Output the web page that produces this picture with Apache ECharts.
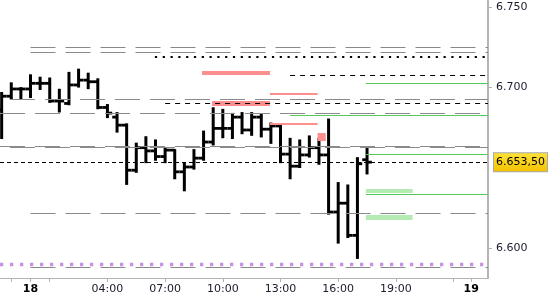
<!DOCTYPE html>
<html><head><meta charset="utf-8">
<script src="https://cdn.jsdelivr.net/npm/echarts@6/dist/echarts.min.js"></script>
<style>html,body{margin:0;padding:0;background:#fff}#c{width:550px;height:300px}</style>
</head><body><div id="c"></div>
<script>
// 30-minute OHLC bars, time in hours relative to 00:00 of day 18
const barHours = [-1.5,-1,-0.5,0,0.5,1,1.5,2,2.5,3,3.5,4,4.5,5,5.5,6,6.5,7,7.5,8,8.5,9,9.5,10,10.5,11,11.5,12,12.5,13,13.5,14,14.5,15,15.5,16,16.5,17,17.5];
const opens  = [6686,6694.5,6699,6699,6702.5,6702.5,6691.5,6690,6701.5,6704.5,6703.5,6687.5,6681.5,6676.5,6648.5,6662.5,6660.5,6657,6661,6647.5,6650.5,6656,6666,6674.5,6674.5,6681.5,6673.5,6681.5,6674,6676,6658.5,6651,6658,6662.5,6658,6622.5,6628,6608,6655];
const highs  = [6696.5,6702.5,6699.5,6707.5,6706,6705.5,6698.5,6709,6711,6708.5,6705,6689,6684,6677,6665,6669,6667,6662,6661,6652.5,6661,6672.5,6687,6686,6683.5,6684,6684,6683,6677.5,6676.5,6668,6667,6669.5,6668,6680,6640.5,6639,6656,6662];
const lows   = [6668.5,6693,6693,6694,6699,6691,6685,6689.5,6700.5,6699.5,6687,6681.5,6672.5,6640,6647.5,6653.5,6655,6653.5,6643.5,6636,6649.5,6655,6664.5,6669,6668.5,6671.5,6670.5,6669.5,6665.5,6653.5,6643.5,6650.5,6657,6652.5,6621.5,6603.5,6607,6594,6646.5];
const closes = [6694.5,6699,6699,6702.5,6702.5,6691.5,6691.5,6701.5,6704.5,6703.5,6687.5,6684,6676.5,6648.5,6662.5,6660.5,6657,6661,6647.5,6650.5,6656,6666,6674.5,6674.5,6681.5,6673.5,6681.5,6674,6676,6658.5,6651,6658,6662.5,6658,6622.5,6628,6608,6652.5,6653.5];

const lastPrice = 6653.5;
const xMin = -1.586, xMax = 23.79;
const yMin = 6581.5, yMax = 6754.3;

const xTickHours = [-1,0,1,4,7,10,13,16,19,22,22.92];
const xLabelHours = [0,4,7,10,13,16,19,22.92];
const xLabels = ['18','04:00','07:00','10:00','13:00','16:00','19:00','19'];
const boldLabels = ['18','19'];
const yLabelValues = [6600,6700,6750];

// horizontal levels: price, start hour (end = xMax)
const grayLevels = [6724.9,6721.8,6692.5,6683.8,6663.2,6662.6,6621.8,6588.2];
const grayStarts = [0,0,-1.07,xMin,xMin,-1.07,0,0];
const blackDashLevels = [6707.7,6690.0];
const blackDashStarts = [13.5,7];
const dottedLevel = 6719.0, dottedStart = 6.47;
const salmonLevels = [6709.0,6690.0,6695.8,6677.2,6669.2];
const salmonStarts = [8.92,9.44,12.45,12.45,14.93];
const salmonEnds   = [12.45,12.45,14.93,14.93,15.35];
const greenLevels = [6702.5,6682.6,6658.3,6633.6];
const greenStarts = [17.44,13.5,17.44,17.44];
const lightGreenLevels = [6635.9,6619.1];
const lightGreenStarts = [17.44,17.44];
const lightGreenEnds = [19.87,19.87];
const purpleLevel = 6590.2;

const FONT = 'DejaVu Sans';
function fmtThousands(v){ return (v/1000).toFixed(3); }
function fmtPrice(v){
  const s = v.toFixed(2).split('.');
  const n = s[0];
  return n.slice(0, n.length-3) + '.' + n.slice(n.length-3) + ',' + s[1];
}
function seg(y, x1, x2, style){
  return [{coord:[x1,y], lineStyle:style},{coord:[x2,y]}];
}

const salmonWidths = [4,5,2,2,8];
const lightGreenWidths = [4,5];
const lines = [];
grayLevels.forEach((v,i)=>lines.push(seg(v, grayStarts[i], xMax, {color:'#8a8a8a', width:1, type:[25,10]})));
lines.push(seg(purpleLevel, xMin, xMax, {color:'#c792e6', width:3.3, type:[3.3,6.7]}));
salmonLevels.forEach((v,i)=>lines.push(seg(v, salmonStarts[i], salmonEnds[i], {color:'#ff8f8f', width:salmonWidths[i], type:'solid'})));
lightGreenLevels.forEach((v,i)=>lines.push(seg(v, lightGreenStarts[i], lightGreenEnds[i], {color:'#b3ebb3', width:lightGreenWidths[i], type:'solid'})));
greenLevels.forEach((v,i)=>lines.push(seg(v, greenStarts[i], xMax, {color:'#55c855', width:1, type:'solid'})));
blackDashLevels.forEach((v,i)=>lines.push(seg(v, blackDashStarts[i], xMax, {color:'#000', width:1, type:[5,5]})));
lines.push(seg(dottedLevel, dottedStart, xMax, {color:'#000', width:2.2, type:[2.2,5.6]}));

const priceLine = [{coord:[xMin,lastPrice], lineStyle:{color:'#000', width:1, type:[4,3]},
  label:{show:true, position:'end', distance:6, formatter:fmtPrice(lastPrice), fontFamily:FONT, fontSize:11, color:'#000',
    backgroundColor:{type:'linear',x:0,y:0,x2:0,y2:1,colorStops:[{offset:0,color:'#ffe23a'},{offset:1,color:'#f2c200'}]},
    borderColor:'#a8a8a8', borderWidth:1, padding:[4,2,3,2]}},
  {coord:[xMax,lastPrice]}];
lines.push(priceLine);

const ohlc = barHours.map((t,i)=>[t, opens[i], highs[i], lows[i], closes[i]]);

const chart = echarts.init(document.getElementById('c'), null, {renderer:'canvas'});
chart.setOption({
  animation:false,
  backgroundColor:'#fff',
  grid:{left:0, right:62, top:0, bottom:22},
  xAxis:{type:'value', min:xMin, max:xMax,
    axisLine:{show:true, onZero:false, lineStyle:{color:'#b4b4b4', width:1}},
    axisTick:{show:true, length:4, lineStyle:{color:'#b4b4b4'}, customValues:xTickHours},
    axisLabel:{show:true, customValues:xLabelHours, margin:6, fontFamily:FONT, fontSize:11, color:'#1a1a2a',
      formatter:(v)=>{ let i=xLabelHours.findIndex(h=>Math.abs(h-v)<1e-6); if(i<0) return ''; const s=xLabels[i]; return boldLabels.includes(s)?'{b|'+s+'}':s; },
      rich:{b:{fontWeight:'bold', fontFamily:FONT, fontSize:11, color:'#000'}}},
    splitLine:{show:false}},
  yAxis:{type:'value', position:'right', min:yMin, max:yMax, scale:true,
    axisLine:{show:true, onZero:false, lineStyle:{color:'#b4b4b4', width:2}},
    axisTick:{show:true, length:4, lineStyle:{color:'#b4b4b4'}, customValues:yLabelValues},
    axisLabel:{show:true, customValues:yLabelValues, margin:8, fontFamily:FONT, fontSize:11, color:'#1a1a2a', formatter:fmtThousands},
    splitLine:{show:false}},
  series:[
    {type:'line', data:[], z:1, silent:true,
      markLine:{silent:true, symbol:['none','none'], animation:false, label:{show:false}, emphasis:{disabled:true}, data:lines}},
    {type:'custom', z:3, clip:true, silent:true, data:ohlc, encode:{x:0, y:[1,2,3,4]},
      renderItem:(params, api)=>{
        const t=api.value(0), o=api.value(1), h=api.value(2), l=api.value(3), c=api.value(4);
        const ph=api.coord([t,h]), pl=api.coord([t,l]), po=api.coord([t,o]), pc=api.coord([t,c]);
        const x=ph[0];
        const st={fill:'#000'};
        return {type:'group', children:[
          {type:'rect', shape:{x:x-1.5, y:ph[1]-1, width:3, height:pl[1]-ph[1]+2}, style:st},
          {type:'rect', shape:{x:x-4.8, y:po[1]-1.4, width:4.8, height:2.8}, style:st},
          {type:'rect', shape:{x:x, y:pc[1]-1.4, width:4.8, height:2.8}, style:st}
        ]};
      }}
  ]
});
</script></body></html>
